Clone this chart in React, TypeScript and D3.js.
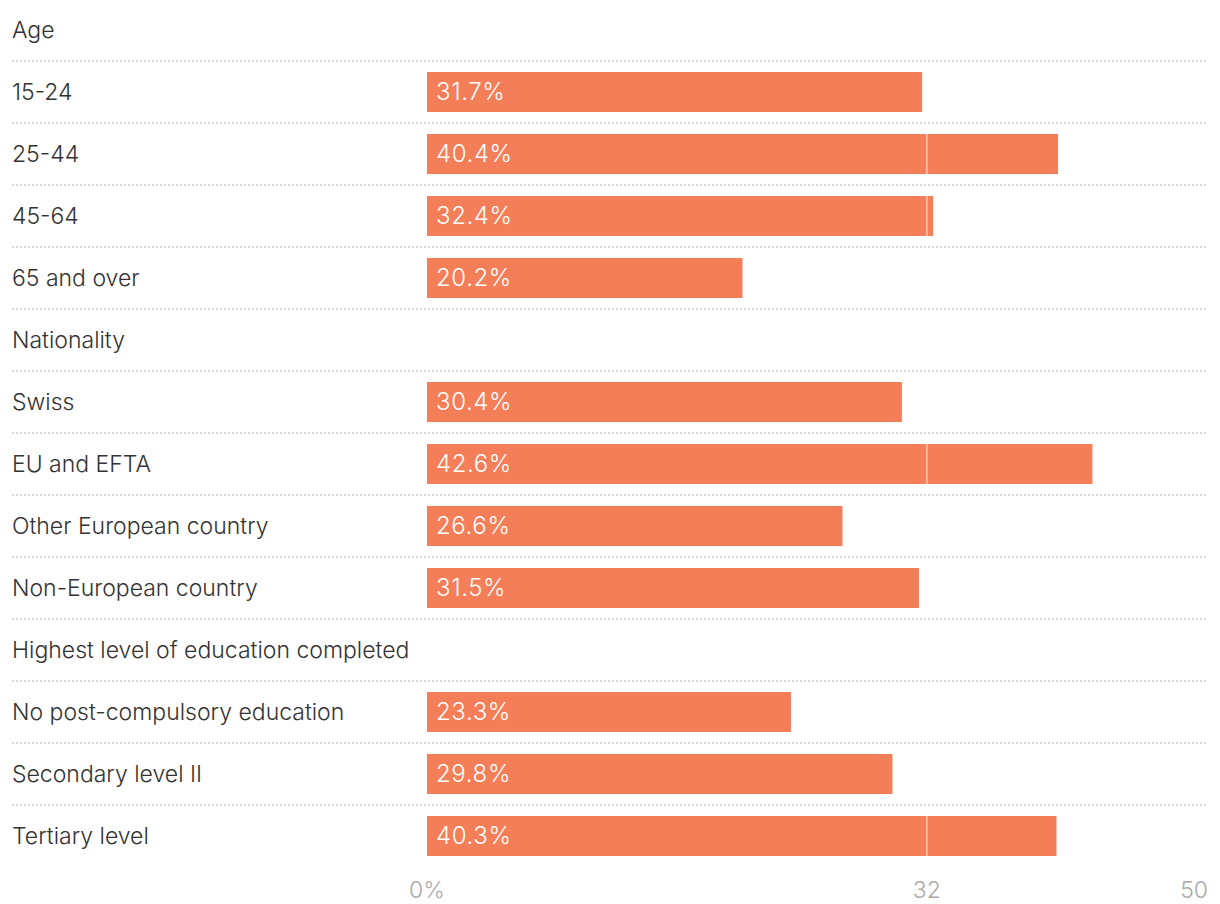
import React from "react";
import * as d3 from "d3";

const groups = ["Age", "Nationality", "Highest level of education completed"];
const categories = [
  "15-24", "25-44", "45-64", "65 and over",
  "Swiss", "EU and EFTA", "Other European country", "Non-European country",
  "No post-compulsory education", "Secondary level II", "Tertiary level",
];
const categoryGroup = [0, 0, 0, 0, 1, 1, 1, 1, 2, 2, 2];
const values = [31.7, 40.4, 32.4, 20.2, 30.4, 42.6, 26.6, 31.5, 23.3, 29.8, 40.3];
const tickValues = [0, 32, 50];
const tickLabels = ["0%", "32", "50"];

type Row = { kind: "header" | "bar"; label: string; value?: number };

function buildRows(): Row[] {
  const rows: Row[] = [];
  let g = -1;
  categories.forEach((c, i) => {
    if (categoryGroup[i] !== g) {
      g = categoryGroup[i];
      rows.push({ kind: "header", label: groups[g] });
    }
    rows.push({ kind: "bar", label: c, value: values[i] });
  });
  return rows;
}

export default function App() {
  const W = 1220, H = 904;
  const rows = buildRows();
  const rowH = 62;
  const top = -1;
  const x = d3.scaleLinear().domain([0, 50]).range([427, 1208]);
  const y = (i: number) => top + i * rowH;
  const font = "Inter, 'Noto Sans', sans-serif";
  const barColor = "#f37e58";
  const barH = 40;
  const axisY = y(rows.length) + 23;

  return (
    <svg width={W} height={H} style={{ position: "absolute", left: 0, top: 0, background: "#fff" }}
      fontFamily={font}>
      {rows.map((r, i) => {
        const cy = y(i) + rowH / 2;
        return (
          <g key={i}>
            <text x={12} y={cy} dy="0.35em" fontSize={23} fontWeight={300} fill="#333">{r.label}</text>
            {i < rows.length - 1 && (
              <line x1={12} x2={1208} y1={y(i + 1)} y2={y(i + 1)} stroke="#d6d6d6"
                strokeWidth={2} strokeDasharray="2,2" />
            )}
            {r.kind === "bar" && (
              <g>
                <rect x={x(0)} y={cy - barH / 2} width={x(r.value!) - x(0)} height={barH} fill={barColor} />
                <text x={x(0) + 9} y={cy} dy="0.35em" fontSize={24} fontWeight={300} fill="#fff"
                  letterSpacing={0.6}>
                  {r.value!.toFixed(1)}%
                </text>
              </g>
            )}
          </g>
        );
      })}
      <line x1={x(32)} x2={x(32)} y1={y(0) + rowH} y2={y(rows.length) - 10} stroke="#fff"
        strokeOpacity={0.45} strokeWidth={2} />
      {tickValues.map((t, i) => (
        <text key={t} x={x(t)} y={axisY} dy="0.35em" fontSize={23} fontWeight={300} fill="#aaa"
          textAnchor={i === tickValues.length - 1 ? "end" : "middle"}>{tickLabels[i]}</text>
      ))}
    </svg>
  );
}
